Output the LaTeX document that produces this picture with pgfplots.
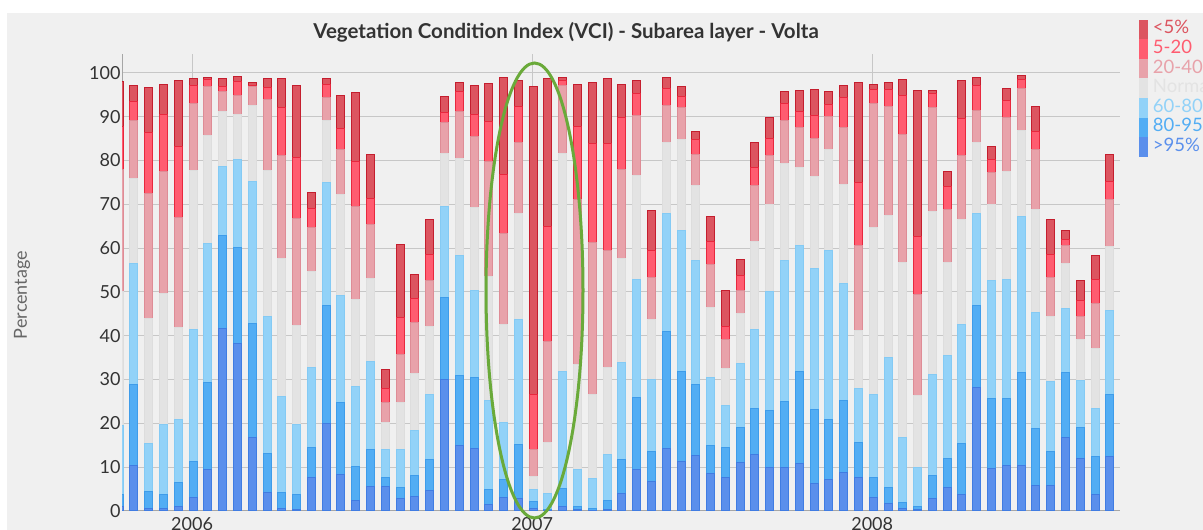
\documentclass[border=0pt]{standalone}
\usepackage{pgfplots}
\pgfplotsset{compat=1.18}
\usepackage{pgfplotstable}
\usepackage{fontspec}
\setmainfont{Lato}
\definecolor{cA}{HTML}{DC5560}
\definecolor{cAb}{HTML}{C41E2E}
\definecolor{cB}{HTML}{FF5C70}
\definecolor{cBb}{HTML}{E8283E}
\definecolor{cC}{HTML}{E8A2AA}
\definecolor{cCb}{HTML}{DE8C96}
\definecolor{cD}{HTML}{E3E3E3}
\definecolor{cDb}{HTML}{DDDDDD}
\definecolor{cE}{HTML}{92D2F8}
\definecolor{cEb}{HTML}{84CAF4}
\definecolor{cF}{HTML}{52ADF4}
\definecolor{cFb}{HTML}{3E9CEA}
\definecolor{cG}{HTML}{5A8FEC}
\definecolor{cGb}{HTML}{407CE2}
\definecolor{bgc}{HTML}{F0F0F0}
\definecolor{ellc}{HTML}{6AAA3A}
\definecolor{txt}{HTML}{333333}

% cumulative upper bounds of each class (percent of area)
\pgfplotstableread{
k  b1   b2   b3   b4   b5   b6   b7
0  1.0  3.7  19.6 50.0 77.9 87.8 98.1
1  10.4 28.8 56.4 75.9 89.1 93.5 97.0
2  0.6  4.4  15.5 44.0 72.4 86.3 96.6
3  0.5  3.7  19.8 49.7 77.5 90.6 97.3
4  1.0  6.5  20.8 41.9 66.9 83.2 98.2
5  3.1  11.3 41.4 77.7 93.0 97.0 98.6
6  9.5  29.3 61.0 85.7 96.8 98.5 99.0
7  41.7 62.8 78.7 91.1 95.8 96.8 98.7
8  38.2 60.2 80.2 90.5 94.9 98.1 99.1
9  16.8 42.8 75.1 92.5 96.9 97.1 97.7
10 4.2  13.2 44.4 77.7 93.9 96.7 98.6
11 0.5  4.2  26.1 57.7 81.2 92.0 98.7
12 0.3  3.7  19.8 42.3 66.7 80.6 97.1
13 7.6  14.5 32.7 54.7 64.6 69.0 72.6
14 19.9 46.9 75.0 89.1 94.4 97.3 98.7
15 8.4  24.8 49.1 72.2 82.5 87.4 94.8
16 2.5  10.1 28.4 48.2 69.4 79.8 95.4
17 5.7  14.1 34.1 53.0 65.3 71.3 81.3
18 5.5  7.6  14.1 20.2 24.8 28.0 32.4
19 2.9  5.4  14.1 24.8 35.8 44.2 60.8
20 3.3  8.0  18.3 31.3 43.0 48.4 53.9
21 4.6  11.7 26.5 42.1 52.6 58.6 66.6
22 30.1 48.8 69.5 81.6 88.6 90.9 94.7
23 14.9 30.9 58.3 80.4 91.2 95.7 97.9
24 14.3 30.5 50.3 69.3 85.4 90.6 97.1
25 1.5  4.8  25.2 53.5 79.8 88.8 97.5
26 3.0  7.3  20.2 42.5 63.4 76.8 98.9
27 2.9  15.1 43.6 67.8 84.2 92.4 98.2
28 0.5  2.1  5.0  7.8  14.1 26.7 96.8
29 0.2  0.3  4.0  15.6 38.7 65.0 98.7
30 1.0  5.2  31.8 81.6 97.2 98.2 98.9
31 0.3  1.0  9.4  33.4 71.2 87.8 97.3
32 0.2  0.5  7.5  26.5 61.3 83.8 97.9
33 0.3  2.3  13.0 32.8 59.5 83.8 98.7
34 3.9  11.8 34.0 57.6 77.9 89.7 97.3
35 9.5  26.0 52.8 76.6 90.2 95.3 98.2
36 6.7  13.6 29.9 43.6 53.3 59.4 68.5
37 14.2 41.0 67.8 84.2 92.5 96.4 98.9
38 11.3 31.8 64.1 84.8 92.2 94.7 96.8
39 12.6 28.9 57.2 74.3 81.3 84.8 86.7
40 8.5  14.9 30.5 46.5 56.2 61.4 67.1
41 7.6  14.5 24.0 32.6 39.2 42.1 50.3
42 11.1 19.1 33.7 45.0 50.3 53.7 57.5
43 12.9 23.5 41.5 61.5 74.3 78.3 84.2
44 9.9  22.9 50.1 69.9 81.2 85.1 89.9
45 10.0 25.0 57.2 79.3 89.1 93.1 95.8
46 10.9 31.8 60.5 78.4 87.6 91.1 96.0
47 6.2  23.2 55.4 76.4 85.0 90.3 96.2
48 7.3  20.8 59.4 82.5 90.1 92.8 95.8
49 8.8  25.2 52.0 74.5 87.6 94.3 97.2
50 7.7  15.6 27.9 41.1 60.5 75.0 97.9
51 3.0  7.6  26.7 64.6 93.0 96.3 97.3
52 1.8  5.3  35.0 67.4 92.4 96.3 97.7
53 0.6  2.0  16.8 56.6 85.9 94.8 98.5
54 0.3  1.0  10.0 26.4 49.5 62.7 96.0
55 2.9  8.2  31.1 68.4 92.2 95.2 96.0
56 5.3  11.9 35.5 56.6 68.7 74.1 77.5
57 3.8  15.3 42.5 66.5 81.2 89.5 98.2
58 28.2 46.9 68.0 84.2 91.4 97.1 99.0
59 9.7  25.6 52.6 69.9 77.2 80.3 83.2
60 10.3 25.6 52.9 77.4 89.7 93.7 96.4
61 10.3 31.5 67.3 86.8 96.4 98.5 99.4
62 5.8  18.9 45.4 68.8 82.5 86.7 92.4
63 5.9  13.6 29.6 44.4 53.3 58.6 66.6
64 16.8 31.5 46.3 56.4 60.6 61.9 64.1
65 11.9 19.0 29.7 39.2 44.4 48.1 52.6
66 3.8  12.4 23.5 37.2 47.3 52.8 58.3
67 12.4 26.5 45.7 60.4 71.2 75.1 81.3
}\vci

\pgfplotsset{
  segbar/.style={bar shift=0pt, line width=1pt,
    legend image code/.code={\fill[##1,draw=none] (0pt,-9.8pt) rectangle (9pt,9.8pt);}},
}

\begin{document}
\begin{tikzpicture}
\fill[bgc] (7pt,0pt) rectangle (1203pt,517pt);
\begin{axis}[
  at={(122pt,19pt)}, anchor=south west,
  scale only axis, width=998pt, height=457pt,
  xmin=0.19, xmax=67.69, ymin=0, ymax=104.3,
  ybar, bar width=8pt,
  axis x line*=bottom, axis y line*=left,
  axis line style={draw=black!35, line width=1pt, -},
  major tick length=0pt,
  ytick={0,10,...,100},
  xtick={4.93,27.93,50.93}, xticklabels={2006,2007,2008},
  ymajorgrids, xmajorgrids,
  grid style={draw=black!22, line width=1pt},
  /pgf/number format/assume math mode=true,
  ticklabel style={font=\fontsize{18}{18}\selectfont, text=txt},
  yticklabel style={xshift=2pt},
  xticklabel style={yshift=-3pt},
  title={\bfseries Vegetation Condition Index (VCI) - Subarea layer - Volta},
  title style={at={(axis description cs:0.4449,1.0350)}, anchor=center, yshift=0pt,
    font=\fontsize{20.5}{22}\selectfont, text=txt},
  ylabel={Percentage},
  ylabel style={at={(axis description cs:-0.1002,0.4726)}, anchor=center, rotate=0,
    font=\fontsize{18}{20}\selectfont, text=black!60},
  legend style={at={(axis description cs:1.0190,1.0751)}, anchor=north west,
    draw=none, fill=none, inner sep=0pt, outer sep=0pt, row sep=0pt,
    nodes={inner sep=0pt, text height=14.3pt, text depth=5.3pt,
      font=\fontsize{18.5}{18.5}\selectfont}},
  legend cell align=left,
]
\addplot[segbar, fill=cA, draw=cAb] table[x=k,y=b7]{\vci};
\addplot[segbar, fill=cB, draw=cBb] table[x=k,y=b6]{\vci};
\addplot[segbar, fill=cC, draw=cCb] table[x=k,y=b5]{\vci};
\addplot[segbar, fill=cD, draw=cDb] table[x=k,y=b4]{\vci};
\addplot[segbar, fill=cE, draw=cEb] table[x=k,y=b3]{\vci};
\addplot[segbar, fill=cF, draw=cFb] table[x=k,y=b2]{\vci};
\addplot[segbar, fill=cG, draw=cGb] table[x=k,y=b1]{\vci};
\legend{\hspace{5pt}\textcolor{cA}{<5\%},\hspace{5pt}\textcolor{cB}{5-20},\hspace{5pt}\textcolor{cC}{20-40},\hspace{5pt}\textcolor{cD}{Normal},\hspace{5pt}\textcolor{cE}{60-80},\hspace{5pt}\textcolor{cF}{80-95},\hspace{5pt}\textcolor{cG}{>95\%}}
\end{axis}
\draw[ellc, line width=3pt] (534.5pt,239.5pt) ellipse [x radius=48.5pt, y radius=227.5pt];
\pgfresetboundingbox
\useasboundingbox (0pt,0pt) rectangle (1203pt,530pt);
\end{tikzpicture}
\end{document}
